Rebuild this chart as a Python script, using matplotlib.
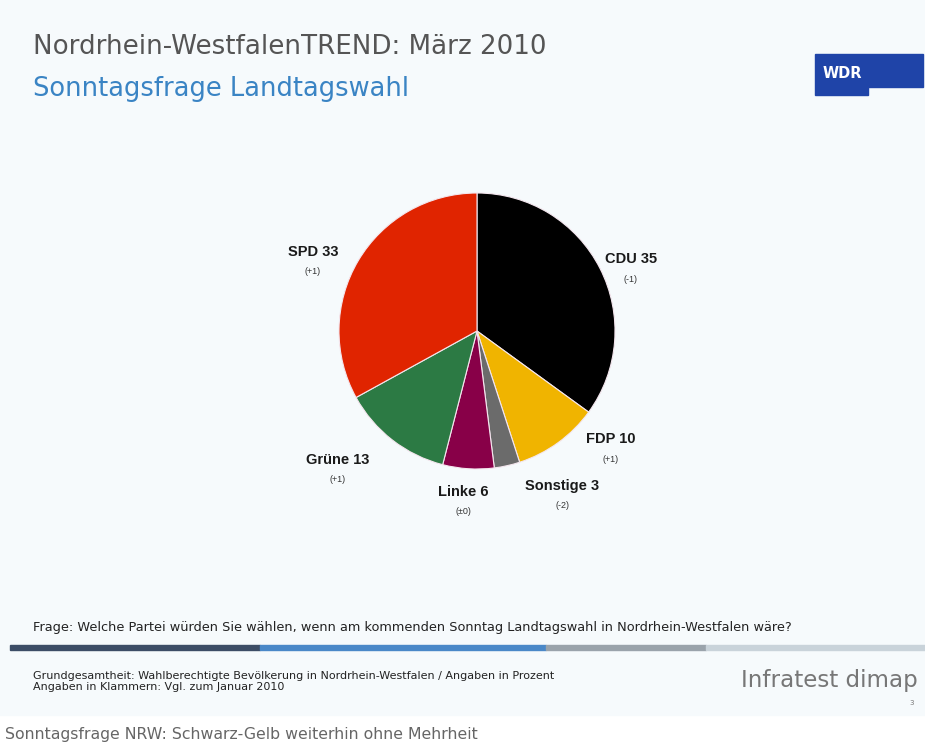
import matplotlib.pyplot as plt
from matplotlib.patches import Rectangle, Polygon

# data
parties = ["CDU", "FDP", "Sonstige", "Linke", "Grüne", "SPD"]
shares = [35, 10, 3, 6, 13, 33]
changes = ["(-1)", "(+1)", "(-2)", "(±0)", "(+1)", "(+1)"]
colors = ["#000000", "#f0b400", "#6b6b6b", "#880048", "#2c7a44", "#e02400"]

# label anchor positions in pixels (x, y from top)
label_pos = [(631, 259), (611, 439), (562, 486), (463, 492), (338, 460), (313, 252)]

W, H = 925, 747
sans = ["DejaVu Sans"]

fig = plt.figure(figsize=(W / 100, H / 100), dpi=100)
fig.patch.set_facecolor("#ffffff")

bg = fig.add_axes([0, 0, 1, 1])
bg.set_xlim(0, W)
bg.set_ylim(H, 0)
bg.axis("off")
bg.add_patch(Rectangle((0, 0), W, 715, color="#f6fafc", zorder=0))

# titles
bg.text(33, 47, "Nordrhein-WestfalenTREND: März 2010", fontsize=18.8,
        color="#555555", family=sans, va="center")
bg.text(33, 89, "Sonntagsfrage Landtagswahl", fontsize=18.5,
        color="#3a84c4", family=sans, va="center")

# WDR logo
bg.add_patch(Polygon([(815, 54), (923, 54), (923, 87), (868, 87), (868, 95), (815, 95)],
                     closed=True, color="#1f44a8", zorder=2))
bg.text(823, 73, "WDR", fontsize=10.5, fontweight="bold", color="white",
        va="center", zorder=3)

# pie
cx, cy, r = 477, 331, 138
pax = fig.add_axes([(cx - r) / W, (H - cy - r) / H, 2 * r / W, 2 * r / H])
pax.pie(shares, colors=colors, startangle=90, counterclock=False,
        wedgeprops=dict(edgecolor="#f4e6ee", linewidth=0.8))
pax.set_xlim(-1, 1)
pax.set_ylim(-1, 1)
pax.set_aspect("equal")
pax.axis("off")

for p, v, c, (x, y) in zip(parties, shares, changes, label_pos):
    bg.text(x, y, f"{p} {v}", fontsize=10.5, fontweight="bold", color="#1a1a1a",
            family="Liberation Sans", ha="center", va="center")
    bg.text(x, y + 20, c, fontsize=6.5, color="#333333",
            family="Liberation Sans", ha="center", va="center")

# footer
bg.text(33, 628, "Frage: Welche Partei würden Sie wählen, wenn am kommenden Sonntag "
        "Landtagswahl in Nordrhein-Westfalen wäre?", fontsize=9.3,
        color="#222222", family=sans, va="center")
for x0, x1, col in [(10, 260, "#3c4d66"), (260, 546, "#4a88c8"),
                    (546, 706, "#9aa3ab"), (706, 925, "#c9d3da")]:
    bg.add_patch(Rectangle((x0, 645), x1 - x0, 5, color=col, zorder=2))

bg.text(33, 676, "Grundgesamtheit: Wahlberechtigte Bevölkerung in Nordrhein-Westfalen / "
        "Angaben in Prozent", fontsize=8, color="#222222", family=sans, va="center")
bg.text(33, 687, "Angaben in Klammern: Vgl. zum Januar 2010", fontsize=8,
        color="#222222", family=sans, va="center")
bg.text(918, 680, "Infratest dimap", fontsize=16.6, color="#777777",
        family=sans, ha="right", va="center")
bg.text(914, 703, "3", fontsize=5, color="#777777", ha="right", va="center")

bg.text(5, 734, "Sonntagsfrage NRW: Schwarz-Gelb weiterhin ohne Mehrheit",
        fontsize=11.3, color="#666666", family=sans, va="center")

fig.savefig("out.png", dpi=100, facecolor=fig.get_facecolor())
